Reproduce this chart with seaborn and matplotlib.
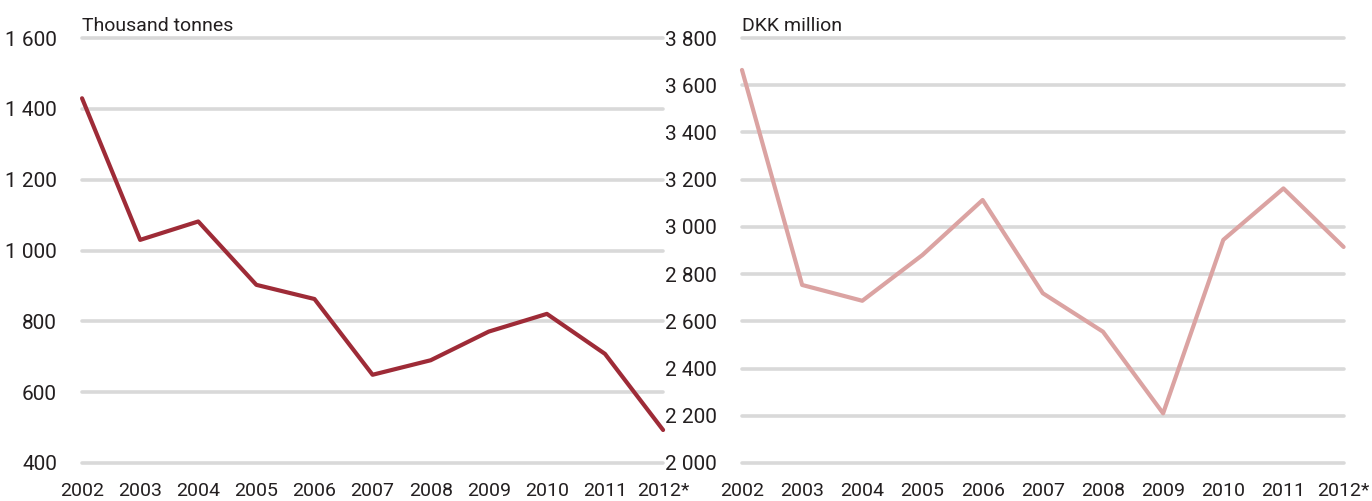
import numpy as np
import pandas as pd
import matplotlib
matplotlib.use("Agg")
import matplotlib.pyplot as plt
import seaborn as sns

# ── data ─────────────────────────────────────────────────────────────────────
years = ["2002", "2003", "2004", "2005", "2006", "2007", "2008", "2009", "2010", "2011", "2012*"]
tonnes = [1430, 1030, 1082, 903, 863, 649, 690, 771, 821, 708, 493]
dkk_million = [3665, 2754, 2687, 2881, 3114, 2719, 2556, 2210, 2945, 3163, 2915]

tonnes_ticks = [400, 600, 800, 1000, 1200, 1400, 1600]
dkk_ticks = [2000, 2200, 2400, 2600, 2800, 3000, 3200, 3400, 3600, 3800]

sns.set_theme(style="white")
plt.rcParams["font.family"] = ["Roboto", "DejaVu Sans"]

TEXT = "#231f20"
GRID = "#d9d9d9"
FS = 14


def fmt(v):
    return f"{v:,}".replace(",", " ")


def draw(ax, values, ticks, color, unit):
    df = pd.DataFrame({"i": np.arange(len(years)), "v": values})
    for t in ticks:
        ax.axhline(t, color=GRID, lw=2.6, zorder=0)
    sns.lineplot(data=df, x="i", y="v", ax=ax, color=color, lw=3.0, zorder=3)
    ax.set_xlim(0, len(years) - 1)
    ax.set_ylim(ticks[0], ticks[-1])
    ax.set_xticks(df["i"])
    ax.set_xticklabels(years, fontsize=FS, color=TEXT)
    ax.set_yticks(ticks)
    ax.set_yticklabels([fmt(t) for t in ticks], fontsize=FS + 1, color=TEXT)
    ax.tick_params(axis="both", length=0)
    ax.tick_params(axis="y", pad=18)
    ax.tick_params(axis="x", pad=14)
    ax.set_xlabel("")
    ax.set_ylabel("")
    for s in ax.spines.values():
        s.set_visible(False)
    ax.text(0, 1.008, unit, transform=ax.transAxes, fontsize=FS, color=TEXT,
            ha="left", va="bottom")
    for ln in ax.lines:
        ln.set_clip_on(False)


fig = plt.figure(figsize=(13.72, 5.01), dpi=100)
ax1 = fig.add_axes([0.0598, 0.076, 0.4235, 0.848])
ax2 = fig.add_axes([0.5408, 0.076, 0.4385, 0.848])

draw(ax1, tonnes, tonnes_ticks, "#9e2b37", "Thousand tonnes")
draw(ax2, dkk_million, dkk_ticks, "#dba3a2", "DKK million")

plt.savefig("out.png", dpi=100)
plt.close()
